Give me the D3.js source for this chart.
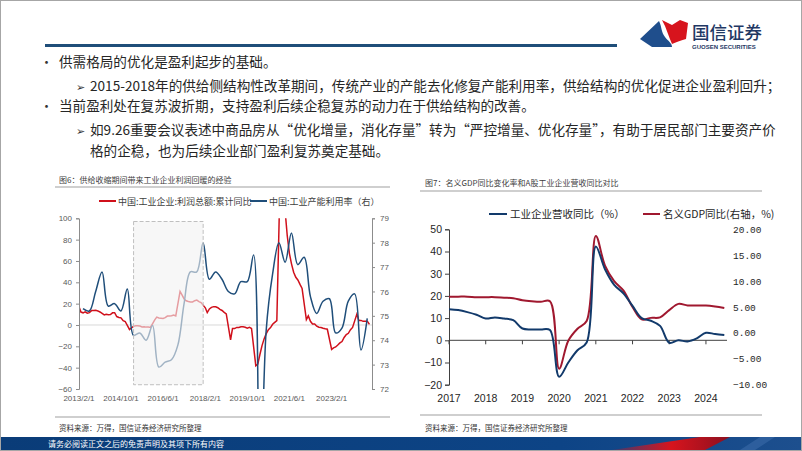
<!DOCTYPE html>
<html><head><meta charset="utf-8">
<script src="https://cdn.jsdelivr.net/npm/d3@7"></script>
<style>body{margin:0;background:#fff} svg{display:block}</style>
</head><body><svg id="c" width="802" height="451"></svg>
<script>
// ---------------- DATA ----------------
// Chart 6: profit cumulative YoY (monthly, no January), left axis
const profitMonths = [
"2013-02","2013-03","2013-04","2013-05","2013-06","2013-07","2013-08","2013-09","2013-10","2013-11","2013-12",
"2014-02","2014-03","2014-04","2014-05","2014-06","2014-07","2014-08","2014-09","2014-10","2014-11","2014-12",
"2015-02","2015-03","2015-04","2015-05","2015-06","2015-07","2015-08","2015-09","2015-10","2015-11","2015-12",
"2016-02","2016-03","2016-04","2016-05","2016-06","2016-07","2016-08","2016-09","2016-10","2016-11","2016-12",
"2017-02","2017-03","2017-04","2017-05","2017-06","2017-07","2017-08","2017-09","2017-10","2017-11","2017-12",
"2018-02","2018-03","2018-04","2018-05","2018-06","2018-07","2018-08","2018-09","2018-10","2018-11","2018-12",
"2019-02","2019-03","2019-04","2019-05","2019-06","2019-07","2019-08","2019-09","2019-10","2019-11","2019-12",
"2020-02","2020-03","2020-04","2020-05","2020-06","2020-07","2020-08","2020-09","2020-10","2020-11","2020-12",
"2021-02","2021-03","2021-04","2021-05","2021-06","2021-07","2021-08","2021-09","2021-10","2021-11","2021-12",
"2022-02","2022-03","2022-04","2022-05","2022-06","2022-07","2022-08","2022-09","2022-10","2022-11","2022-12",
"2023-02","2023-03","2023-04","2023-05","2023-06","2023-07","2023-08","2023-09","2023-10","2023-11","2023-12",
"2024-02","2024-03","2024-04","2024-05","2024-06","2024-07","2024-08"];
const profitValues = [
17.2,12.1,11.4,12.3,11.1,11.6,13.5,13.5,13.7,13.2,12.2,
9.4,10.1,9.6,9.8,11.4,11.5,7.9,7.1,6.7,4.1,3.3,
-4.2,-2.7,-1.3,-0.8,-0.7,-1.0,-1.9,-1.7,-2.0,-1.9,-2.3,
4.8,7.4,6.5,6.4,6.2,6.9,8.4,8.4,8.6,9.4,8.5,
31.5,28.3,24.4,22.7,22.0,21.6,21.6,22.8,23.3,21.9,21.0,
16.1,11.6,15.0,16.5,17.2,17.1,16.2,14.7,13.6,11.8,10.3,
-14.0,-3.3,-3.4,-2.3,-2.4,-1.7,-1.7,-2.1,-2.9,-2.1,-3.3,
-38.3,-36.7,-27.4,-19.3,-12.8,-8.1,-4.4,-2.4,0.7,2.4,4.1,
178.9,137.3,106.0,83.4,66.9,57.3,49.5,44.7,42.2,38.0,34.3,
5.0,8.5,3.5,1.0,1.0,-1.1,-2.1,-2.3,-3.0,-3.6,-4.0,
-22.9,-21.4,-20.6,-18.8,-16.8,-15.5,-11.7,-9.0,-7.8,-4.4,-2.3,
10.2,4.3,4.3,3.4,3.5,3.6,0.5];
// Chart 6: capacity utilization (quarterly), right axis
const capQuarters = [
"2013Q1","2013Q2","2013Q3","2013Q4","2014Q1","2014Q2","2014Q3","2014Q4",
"2015Q1","2015Q2","2015Q3","2015Q4","2016Q1","2016Q2","2016Q3","2016Q4",
"2017Q1","2017Q2","2017Q3","2017Q4","2018Q1","2018Q2","2018Q3","2018Q4",
"2019Q1","2019Q2","2019Q3","2019Q4","2020Q1","2020Q2","2020Q3","2020Q4",
"2021Q1","2021Q2","2021Q3","2021Q4","2022Q1","2022Q2","2022Q3","2022Q4",
"2023Q1","2023Q2","2023Q3","2023Q4","2024Q1","2024Q2"];
const capValues = [
75.3,75.2,76.0,76.8,75.4,75.5,75.2,76.1,
74.2,74.3,74.0,74.6,72.9,73.1,73.2,73.8,
75.5,76.8,76.8,78.0,76.5,76.8,76.5,76.0,
75.9,76.4,76.4,77.5,67.3,74.4,76.7,78.0,
77.2,78.4,77.1,77.4,75.8,75.1,75.6,75.7,
74.3,74.5,75.6,75.9,73.6,74.9];
const chart6Ticks = ["2013/2/1","2014/10/1","2016/6/1","2018/2/1","2019/10/1","2021/6/1","2023/2/1"];
const chart6LeftTicks = [-60,-40,-20,0,20,40,60,80,100];
const chart6RightTicks = [72,73,74,75,76,77,78,79];
const highlightPeriod = ["2015/4/1","2018/1/1"];

// Chart 7: quarterly
const quarters7 = [
"2017Q1","2017Q2","2017Q3","2017Q4","2018Q1","2018Q2","2018Q3","2018Q4",
"2019Q1","2019Q2","2019Q3","2019Q4","2020Q1","2020Q2","2020Q3","2020Q4",
"2021Q1","2021Q2","2021Q3","2021Q4","2022Q1","2022Q2","2022Q3","2022Q4",
"2023Q1","2023Q2","2023Q3","2023Q4","2024Q1","2024Q2","2024Q3"];
const revenueYoY = [
14.0,13.6,12.7,11.5,9.8,10.3,9.8,9.1,
5.3,4.9,4.9,4.6,-16.4,-10.0,-4.5,-1.0,
42.3,32.0,25.0,21.2,15.5,10.0,8.8,6.5,
-1.1,0.0,-0.5,0.9,3.4,2.8,2.4];
const gdpYoY = [
7.0,7.0,7.0,6.9,6.9,6.9,6.8,6.7,
6.3,6.1,6.0,6.1,-6.9,-1.5,0.8,2.3,
18.7,13.0,10.0,8.2,5.0,2.6,2.9,3.0,
4.4,5.6,5.3,5.3,5.3,5.1,4.8];
const years7 = ["2017","2018","2019","2020","2021","2022","2023","2024"];
const chart7LeftTicks = [-20,-10,0,10,20,30,40,50];
const chart7RightTicks = [-10,-5,0,5,10,15,20];

// ---------------- DRAW ----------------
const svg = d3.select("#c");
const CJK = "'Noto Sans CJK SC','Noto Sans',sans-serif";
const LAT = "'Liberation Sans',Arial,sans-serif";

svg.append("rect").attr("x",0.5).attr("y",0.5).attr("width",801).attr("height",450)
  .attr("fill","#fff").attr("stroke","#a6a6a6");

// header line
svg.append("rect").attr("x",45).attr("y",44).attr("width",572).attr("height",3).attr("fill","#1f4e79");
// logo
const logo = svg.append("g");
logo.append("path").attr("d","M640,39 L659,21 C662,27 661,32 665,37 C668,41 672,43 672,47 L652,47 Z").attr("fill","#1f4e8c");
logo.append("path").attr("d","M662,20 L672,25 L680,20 L688,23 L686,39 C680,41 676,42 672,44 C669,37 667,31 665,26 Z").attr("fill","#d7141d");
logo.append("text").attr("x",692).attr("y",39).attr("font-family",CJK).attr("font-size",17.5)
  .attr("font-weight",500).attr("fill","#1f3864").text("国信证券");
logo.append("text").attr("x",692).attr("y",49).attr("font-family",LAT).attr("font-size",6)
  .attr("font-weight",700).attr("fill","#1f3864").text("GUOSEN SECURITIES");

// bullet text
const bullets = [
  {sym:"•", sx:40, tx:59, y:67, t:"供需格局的优化是盈利起步的基础。"},
  {sym:"➢", sx:76, tx:90, y:91, t:"2015-2018年的供给侧结构性改革期间，传统产业的产能去化修复产能利用率，供给结构的优化促进企业盈利回升；"},
  {sym:"•", sx:40, tx:59, y:111, t:"当前盈利处在复苏波折期，支持盈利后续企稳复苏的动力在于供给结构的改善。"},
  {sym:"➢", sx:76, tx:90, y:135, t:"如9.26重要会议表述中商品房从“优化增量，消化存量”转为“严控增量、优化存量”，有助于居民部门主要资产价"},
  {sym:"", sx:76, tx:90, y:156, t:"格的企稳，也为后续企业部门盈利复苏奠定基础。"}
];
bullets.forEach(b=>{
  if(b.sym) svg.append("text").attr("x",b.sx).attr("y",b.y).attr("font-family",CJK)
    .attr("font-size",b.sym==="•"?13:11).attr("fill","#333").text(b.sym);
  svg.append("text").attr("x",b.tx).attr("y",b.y).attr("font-family",CJK)
    .attr("font-size",13.6).attr("fill","#262626").text(b.t);
});

// ===== Chart 6 =====
const g6 = svg.append("g");
g6.append("text").attr("x",59).attr("y",183).attr("font-family",CJK).attr("font-size",8)
  .attr("fill","#404040").text("图6：供给收缩期间带来工业企业利润回暖的经验");
g6.append("line").attr("x1",55).attr("x2",390).attr("y1",187).attr("y2",187).attr("stroke","#bfbfbf").attr("stroke-width",1.5);
// legend
g6.append("line").attr("x1",99).attr("x2",116).attr("y1",201).attr("y2",201).attr("stroke","#d0101b").attr("stroke-width",2);
g6.append("text").attr("x",118).attr("y",204.5).attr("font-family",CJK).attr("font-size",9).attr("fill","#404040").text("中国:工业企业:利润总额:累计同比");
g6.append("line").attr("x1",250).attr("x2",267).attr("y1",201).attr("y2",201).attr("stroke","#1f4e7a").attr("stroke-width",2);
g6.append("text").attr("x",269).attr("y",204.5).attr("font-family",CJK).attr("font-size",9).attr("fill","#404040").text("中国:工业产能利用率（右）");

const parseSlash = d3.timeParse("%Y/%m/%d");
const parseMonth = d3.timeParse("%Y-%m");
const x6 = d3.scaleTime().domain([new Date(2013,1,1), new Date(2024,8,1)]).range([79, 371.6]);
const y6L = d3.scaleLinear().domain([-60,100]).range([389, 218.3]);
const y6R = d3.scaleLinear().domain([72,79]).range([389, 218.3]);

svg.append("defs").append("clipPath").attr("id","clip6").append("rect")
  .attr("x",79).attr("y",218.3).attr("width",294).attr("height",170.7);

// zero line
g6.append("line").attr("x1",79).attr("x2",372).attr("y1",y6L(0)).attr("y2",y6L(0)).attr("stroke","#d9d9d9").attr("stroke-width",1);

const qDate = q => new Date(+q.slice(0,4), +q.slice(5)*3, 0);
const capData = capQuarters.map((q,i)=>({d:qDate(q), v:capValues[i]}));
const profData = profitMonths.map((m,i)=>({d:parseMonth(m), v:profitValues[i]}));

const lines6 = g6.append("g").attr("clip-path","url(#clip6)");
lines6.append("path").datum(profData)
  .attr("d", d3.line().x(d=>x6(d.d)).y(d=>y6L(d.v)))
  .attr("fill","none").attr("stroke","#d0101b").attr("stroke-width",1.5);
lines6.append("path").datum(capData)
  .attr("d", d3.line().x(d=>x6(d.d)).y(d=>y6R(d.v)).curve(d3.curveCatmullRom.alpha(0.5)))
  .attr("fill","none").attr("stroke","#1f4e7a").attr("stroke-width",1.5);

// highlight box (on top, semi-opaque)
const hb0 = x6(parseSlash(highlightPeriod[0])), hb1 = x6(parseSlash(highlightPeriod[1]));
g6.append("rect").attr("x",hb0).attr("y",y6L(97)).attr("width",hb1-hb0).attr("height",y6L(-56)-y6L(97))
  .attr("fill","#f2f2f2").attr("fill-opacity",0.62).attr("stroke","#bfbfbf").attr("stroke-dasharray","4,2").attr("stroke-width",1);

// axes
const ax6L = g6.append("g").attr("transform","translate(79,0)")
  .call(d3.axisLeft(y6L).tickValues(chart6LeftTicks).tickSize(3).tickPadding(4).tickFormat(d3.format("d")));
const ax6R = g6.append("g").attr("transform","translate(372,0)")
  .call(d3.axisRight(y6R).tickValues(chart6RightTicks).tickSize(3).tickPadding(5).tickFormat(d3.format("d")));
[ax6L, ax6R].forEach(a=>{
  a.select(".domain").attr("stroke","#8c8c8c");
  a.selectAll(".tick line").attr("stroke","#8c8c8c");
  a.selectAll("text").attr("font-family",LAT).attr("font-size",8).attr("fill","#595959");
});
g6.selectAll(".xl").data(chart6Ticks).enter().append("text")
  .attr("x",d=>x6(parseSlash(d))).attr("y",401).attr("text-anchor","middle")
  .attr("font-family",LAT).attr("font-size",8).attr("fill","#595959").text(d=>d);

g6.append("line").attr("x1",55).attr("x2",390).attr("y1",417).attr("y2",417).attr("stroke","#bfbfbf").attr("stroke-width",1.5);
g6.append("text").attr("x",59).attr("y",431).attr("font-family",CJK).attr("font-size",7.5).attr("fill","#333").text("资料来源：万得，国信证券经济研究所整理");

// ===== Chart 7 =====
const g7 = svg.append("g");
g7.append("text").attr("x",425).attr("y",186).attr("font-family",CJK).attr("font-size",8)
  .attr("fill","#404040").text("图7：名义GDP同比变化率和A股工业企业营收同比对比");
g7.append("line").attr("x1",420).attr("x2",762).attr("y1",191).attr("y2",191).attr("stroke","#bfbfbf").attr("stroke-width",1.5);
g7.append("line").attr("x1",489).attr("x2",507).attr("y1",214).attr("y2",214).attr("stroke","#123a6b").attr("stroke-width",2);
g7.append("text").attr("x",510).attr("y",218).attr("font-family",CJK).attr("font-size",10.5).attr("fill","#262626").text("工业企业营收同比（%）");
g7.append("line").attr("x1",643).attr("x2",660).attr("y1",214).attr("y2",214).attr("stroke","#a0182f").attr("stroke-width",2);
g7.append("text").attr("x",663).attr("y",218).attr("font-family",CJK).attr("font-size",10.5).attr("fill","#262626").text("名义GDP同比(右轴，%)");

const x7 = d3.scaleLinear().domain([0, quarters7.length-1]).range([449, 724.3]);
const y7L = d3.scaleLinear().domain([-20,50]).range([384.7, 229.3]);
const y7R = d3.scaleLinear().domain([-10,20]).range([384.7, 229.3]);

const ax7L = g7.append("g").attr("transform","translate(449,0)")
  .call(d3.axisLeft(y7L).tickValues(chart7LeftTicks).tickSize(4).tickPadding(3));
ax7L.select(".domain").attr("stroke","#404040");
ax7L.selectAll(".tick line").attr("stroke","#404040");
ax7L.selectAll("text").attr("font-family",LAT).attr("font-size",10.5).attr("fill","#262626");

// zero axis line with year ticks
g7.append("line").attr("x1",449).attr("x2",727).attr("y1",y7L(0)).attr("y2",y7L(0)).attr("stroke","#404040").attr("stroke-width",1);
const yearIdx = years7.map(y=>quarters7.indexOf(y+"Q1"));
g7.selectAll(".yt").data(yearIdx).enter().append("line")
  .attr("x1",d=>x7(d)).attr("x2",d=>x7(d)).attr("y1",y7L(0)).attr("y2",y7L(0)+4).attr("stroke","#404040");
g7.selectAll(".yl").data(years7).enter().append("text")
  .attr("x",(d,i)=>x7(yearIdx[i])).attr("y",402).attr("text-anchor","middle")
  .attr("font-family",LAT).attr("font-size",10.5).attr("fill","#262626").text(d=>d);
g7.selectAll(".rl").data(chart7RightTicks).enter().append("text")
  .attr("x",733).attr("y",d=>y7R(d)+3.5)
  .attr("font-family","'Liberation Mono',monospace").attr("font-size",9.5).attr("fill","#262626")
  .text(d=>d3.format(".2f")(d));

const line7 = d3.curveCatmullRom.alpha(0.5);
g7.append("path").datum(gdpYoY)
  .attr("d", d3.line().x((d,i)=>x7(i)).y(d=>y7R(d)).curve(line7))
  .attr("fill","none").attr("stroke","#a0182f").attr("stroke-width",2);
g7.append("path").datum(revenueYoY)
  .attr("d", d3.line().x((d,i)=>x7(i)).y(d=>y7L(d)).curve(line7))
  .attr("fill","none").attr("stroke","#123a6b").attr("stroke-width",2);

g7.append("line").attr("x1",420).attr("x2",762).attr("y1",415).attr("y2",415).attr("stroke","#bfbfbf").attr("stroke-width",1.5);
g7.append("text").attr("x",425).attr("y",431).attr("font-family",CJK).attr("font-size",7.5).attr("fill","#333").text("资料来源：万得，国信证券经济研究所整理");

// ===== footer band =====
const defs = svg.select("defs");
const grad = defs.append("linearGradient").attr("id","band").attr("x1","0").attr("x2","1");
grad.append("stop").attr("offset","0").attr("stop-color","#0a3c78");
grad.append("stop").attr("offset","0.7").attr("stop-color","#0d4486");
grad.append("stop").attr("offset","1").attr("stop-color","#1d4f8e");
svg.append("rect").attr("x",1).attr("y",437).attr("width",800).attr("height",13).attr("fill","url(#band)");
const rg = defs.append("linearGradient").attr("id","redw").attr("x1","0").attr("x2","1");
rg.append("stop").attr("offset","0").attr("stop-color","#d7141d").attr("stop-opacity",0.2);
rg.append("stop").attr("offset","0.5").attr("stop-color","#d7141d");
rg.append("stop").attr("offset","1").attr("stop-color","#8c1020");
svg.append("path").attr("d","M612,450 L700,437 L730,437 L705,450 Z").attr("fill","url(#redw)");
svg.append("path").attr("d","M740,450 L760,437 L775,437 L755,450 Z").attr("fill","#3a6aa8").attr("opacity",0.6);
svg.append("text").attr("x",48).attr("y",447).attr("font-family",CJK).attr("font-size",8).attr("fill","#fff").text("请务必阅读正文之后的免责声明及其项下所有内容");
</script></body></html>
